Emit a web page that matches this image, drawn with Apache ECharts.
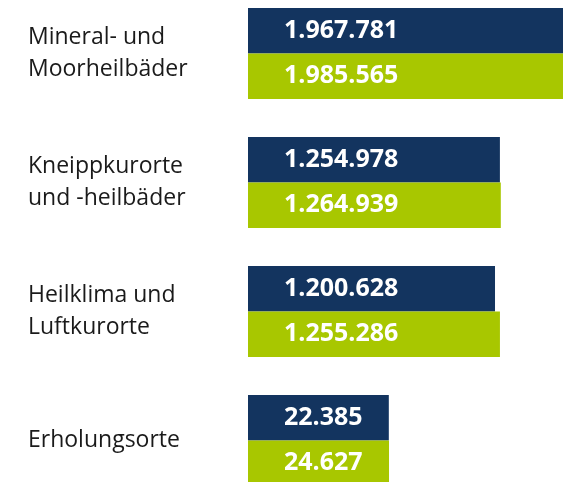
<!DOCTYPE html>
<html>
<head>
<meta charset="utf-8">
<script src="https://cdn.jsdelivr.net/npm/echarts@6/dist/echarts.min.js"></script>
<style>
  html, body { margin: 0; padding: 0; background: #fff; }
  #chart { width: 563px; height: 482px; }
</style>
</head>
<body>
<div id="chart"></div>
<script>
var categories = ['Mineral- und\nMoorheilbäder', 'Kneippkurorte\nund -heilbäder', 'Heilklima und\nLuftkurorte', 'Erholungsorte'];
var valuesA = [1967781, 1254978, 1200628, 22385];
var valuesB = [1985565, 1264939, 1255286, 24627];

// bars are not drawn to scale in the original, axis starts well below zero
var axisMin = -1540000;
var axisMax = 1955000;

function fmt(p) {
    return String(p.value).replace(/\B(?=(\d{3})+(?!\d))/g, '.');
}

var labelStyle = {
    show: true,
    position: 'insideLeft',
    distance: 36,
    color: '#fff',
    fontFamily: 'Open Sans',
    fontWeight: 'bold',
    fontSize: 25,
    overflow: 'none',
    formatter: fmt
};

var myChart = echarts.init(document.getElementById('chart'));
var option = {
    animation: false,
    backgroundColor: '#fff',
    grid: {
        left: 248,
        right: 0,
        top: -11,
        height: 516,
        outerBoundsMode: 'none'
    },
    xAxis: {
        type: 'value',
        min: axisMin,
        max: axisMax,
        startValue: axisMin,
        show: false
    },
    yAxis: {
        type: 'category',
        inverse: true,
        data: categories,
        axisLine: { show: false },
        axisTick: { show: false },
        axisLabel: {
            align: 'left',
            margin: 220,
            color: '#1a1a1a',
            fontFamily: 'Open Sans',
            fontSize: 23,
            lineHeight: 32,
            padding: [7, 0, 0, 0]
        }
    },
    series: [
        {
            name: 'A',
            type: 'bar',
            data: valuesA,
            clip: true,
            barWidth: 45.5,
            barGap: '0%',
            itemStyle: { color: '#13345f' },
            label: labelStyle
        },
        {
            name: 'B',
            type: 'bar',
            data: valuesB,
            clip: true,
            barWidth: 45.5,
            barGap: '0%',
            itemStyle: { color: '#a8c700' },
            label: labelStyle
        }
    ]
};
myChart.setOption(option);
</script>
</body>
</html>
